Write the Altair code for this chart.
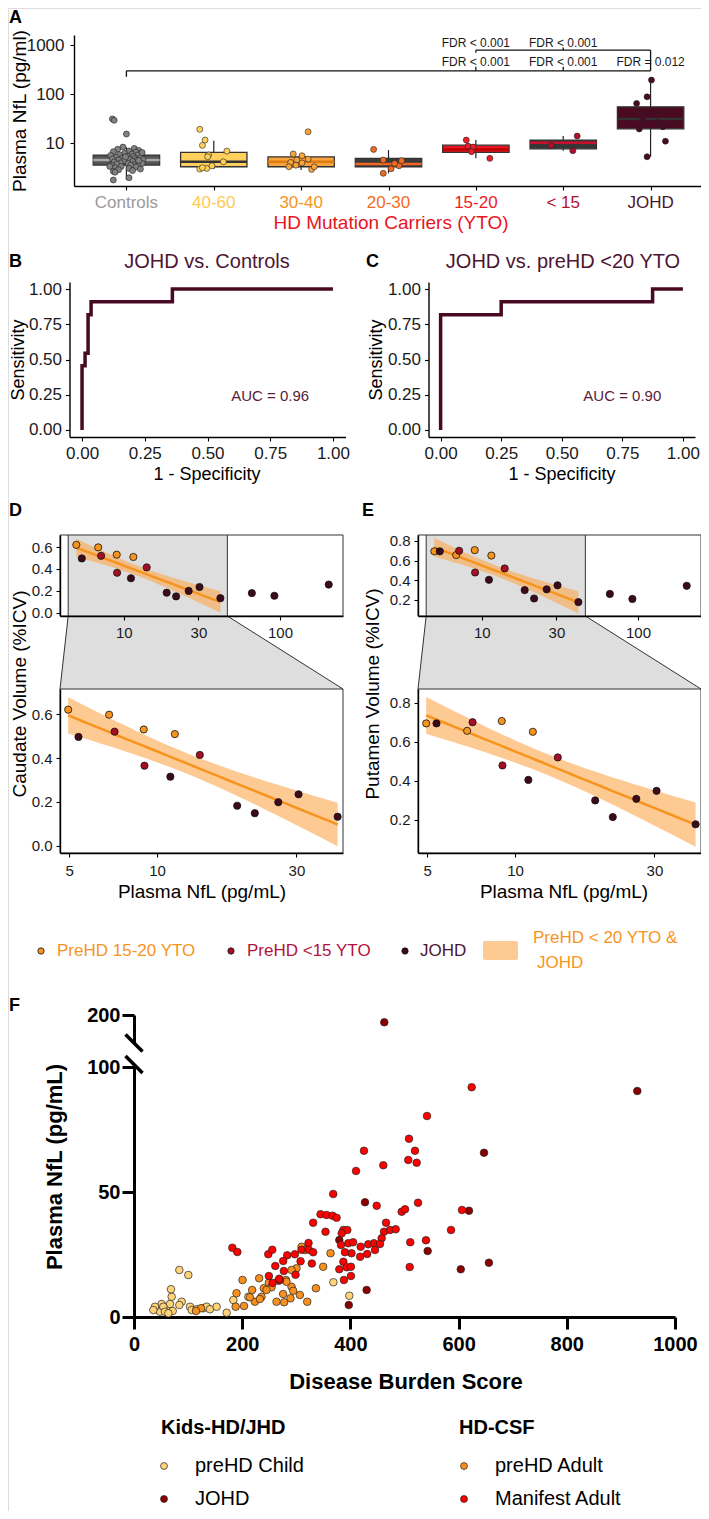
import altair as alt
import numpy as np
import pandas as pd

W, H = 693, 1503
FONT = "Liberation Sans"


def cx(X):
    return X - 8


def cy(Y):
    return Y - 8


# ===================== DATA =====================
# ---- Panel A ----
a_groups = ["Controls", "40-60", "30-40", "20-30", "15-20", "< 15", "JOHD"]
a_point_colors = ["#808080", "#FFD15C", "#F9A33C", "#F26B22", "#EE1C25", "#B0102C", "#4A0A22"]
a_label_colors = ["#9A9A9A", "#FDCB52", "#F7941D", "#F36C24", "#EE1C25", "#B0102C", "#4A1530"]
a_box_fill = ["#555555", "#FFD15C", "#F9A33C", "#3A3A3A", "#E8141E", "#363636", "#4A0A22"]
a_box_median = ["#A8A8A8", "#333333", "#E07B10", "#F26522", "#C00000", "#C8102E", "#333333"]
a_q1 = [3.62, 3.35, 3.35, 3.35, 6.56, 7.77, 19.8]
a_med = [4.58, 4.23, 4.23, 3.8, 7.55, 10.3, 31.2]
a_q3 = [5.78, 6.56, 5.34, 4.96, 9.2, 11.7, 55.5]
a_lo = [1.8, 3.0, 2.87, 2.46, 4.96, 7.1, 5.35]
a_hi = [8.4, 11.3, 6.2, 7.3, 11.7, 14.1, 194]

ctrl_nfl = [31.5, 29.5, 15.5, 8.4, 7.9, 7.6, 7.2, 7.0, 6.8, 6.6, 6.3, 6.1, 6.0, 5.9, 5.8, 5.7, 5.5, 5.4,
            5.2, 5.1, 5.0, 4.9, 4.8, 4.7, 4.7, 4.6, 4.5, 4.4, 4.3, 4.2, 4.1, 4.0, 3.9, 3.9, 3.8, 3.7,
            3.6, 3.6, 3.5, 3.4, 3.3, 3.2, 3.1, 3.0, 2.9, 2.8, 2.7, 2.6, 2.0, 1.8, 4.5, 5.3, 6.5, 3.4]
ctrl_jit = [-0.16, -0.14, 0.00, -0.04, 0.09, -0.10, 0.14, 0.03, -0.15, 0.11, -0.02, 0.17, 0.06, -0.08,
            0.13, -0.18, 0.01, 0.08, -0.12, 0.16, -0.05, 0.10, -0.16, 0.04, 0.19, -0.09, 0.12, -0.03,
            0.07, -0.14, 0.15, -0.07, 0.02, 0.18, -0.11, 0.09, -0.17, 0.05, 0.13, -0.06, 0.11, -0.13,
            0.03, 0.16, -0.09, 0.07, -0.15, -0.13, 0.03, -0.15, 0.14, -0.01, 0.18, -0.19]
g4060_nfl = [19.3, 11.7, 9.1, 5.8, 5.35, 6.97, 4.23, 3.0, 3.1, 3.5, 3.2]
g4060_jit = [-0.16, -0.10, -0.13, -0.06, -0.07, 0.15, 0.11, -0.16, -0.08, -0.02, -0.13]
g3040_nfl = [17.2, 6.1, 5.6, 4.8, 4.1, 4.58, 3.35, 3.6, 2.96, 3.35, 4.0]
g3040_jit = [0.08, -0.09, 0.01, 0.08, -0.12, -0.05, -0.14, -0.06, 0.12, 0.15, 0.01]
g2030_nfl = [7.55, 4.58, 2.46, 3.05, 3.5, 4.45, 3.9]
g2030_jit = [-0.17, -0.06, -0.06, 0.03, 0.12, 0.15, 0.07]
g1520_nfl = [11.7, 8.8, 8.4, 6.8, 4.96]
g1520_jit = [-0.11, -0.09, -0.03, -0.05, 0.16]
g15_nfl = [14.1, 9.1, 7.1]
g15_jit = [0.16, -0.14, 0.11]
gjohd_nfl = [194, 88.5, 65, 46, 42.6, 31.2, 26.7, 21.8, 19.6, 11.1, 5.35]
gjohd_jit = [0.01, -0.04, -0.16, -0.07, 0.04, -0.09, 0.09, 0.14, -0.13, 0.17, -0.04]

# significance brackets (category index units, NfL units)
br_x1 = [1, 1, 5, 6, 7, 5, 5, 6]
br_x2 = [7, 1, 5, 6, 7, 7, 5, 6]
br_y1 = [299, 299, 299, 299, 299, 787, 787, 787]
br_y2 = [299, 226, 361, 361, 787, 787, 700, 890]
fdr_x = [5, 6, 5, 6, 7]
fdr_y = [1109, 1109, 456, 456, 456]
fdr_text = ["FDR < 0.001", "FDR < 0.001", "FDR < 0.001", "FDR < 0.001", "FDR = 0.012"]

# ---- Panels B / C (ROC) ----
rocB_fpr = [0, 0, 0.012, 0.024, 0.036, 0.36, 1.0]
rocB_tpr = [0, 0.455, 0.545, 0.818, 0.909, 1.0, 1.0]
rocC_fpr = [0, 0, 0.25, 0.875, 1.0]
rocC_tpr = [0, 0.818, 0.909, 1.0, 1.0]
auc_text = ["AUC = 0.96", "AUC = 0.90"]

# ---- Panels D / E ----
de_group = ["15-20", "JOHD", "15-20", "<15", "15-20", "<15", "JOHD", "15-20", "<15",
            "JOHD", "JOHD", "JOHD", "JOHD", "JOHD", "JOHD", "JOHD", "JOHD"]
de_nfl = [4.96, 5.38, 6.85, 7.15, 9.0, 9.05, 11.1, 11.5, 14.0, 18.8, 21.6, 26.0, 30.5, 41.5, 66, 92, 205]
caudate = [0.62, 0.496, 0.597, 0.52, 0.53, 0.365, 0.315, 0.509, 0.414, 0.183, 0.149, 0.199, 0.235,
           0.133, 0.179, 0.155, 0.257]
putamen = [0.694, 0.694, 0.656, 0.70, 0.706, 0.479, 0.405, 0.651, 0.52, 0.30, 0.215, 0.308, 0.349,
           0.178, 0.261, 0.21, 0.344]
de_colors = {"15-20": "#F7941D", "<15": "#A50F25", "JOHD": "#3D0A1A"}
legend_labels = ["PreHD 15-20 YTO", "PreHD <15 YTO", "JOHD"]
legend_fill = ["#F7941D", "#A50F25", "#3D0A1A"]
legend_text_col = ["#F7941D", "#B3123B", "#4A1530"]

# ---- Panel F ----
child_dbs = [41.9, 51.1, 60.4, 66.5, 71.5, 48.1, 38.8, 54.2, 69.6, 68.4, 83.8, 100.4, 88.1, 83.8, 103.5,
             106.6, 115.8, 128.1, 134.3, 140.4, 152.7, 171.3, 183.6, 211.3, 368.5, 398, 35.7, 57.3, 63.5]
child_nfl = [3.1, 5.2, 3.1, 5.2, 2.4, 2.1, 4.1, 4.1, 8.1, 11.1, 18.8, 16.8, 6.1, 4.8, 4.1, 2.8, 3.1, 3.5,
             4.1, 3.1, 4.1, 1.7, 6.8, 8.1, 13.9, 8.5, 2.8, 2.1, 1.5]
johd_dbs = [462.7, 930.3, 647, 427, 619.2, 379.5, 542.8, 604, 656, 397, 430]
johd_nfl = [194, 90.4, 65.7, 45.9, 42.5, 30.8, 26.4, 19.1, 21.7, 4.8, 10.8]
adult_dbs = [123.8, 114.6, 187.9, 203.3, 189.5, 200.6, 231.4, 218.4, 223.4, 235.7, 240, 249.3, 263.4,
             277.6, 289.3, 275.7, 291.2, 280.8, 294.3, 306.6, 320.2, 336.2, 349.7, 363.3, 309.7, 315.8,
             300.4, 291.2, 281.9, 266.5, 254.2, 244.9, 232.6, 214.1]
adult_nfl = [3.5, 2.4, 4.1, 4.4, 9.5, 14.8, 15.5, 10.8, 6.1, 8.1, 11.5, 13.7, 6.1, 5.9, 7.5, 9.2, 12.1,
             14.8, 10.5, 8.8, 6.1, 11.5, 20.1, 25.5, 28.1, 26.8, 19.5, 18.8, 14.1, 14.5, 11.9, 10.8, 7.2, 7.9]
manifest_dbs = [181.8, 191, 248.2, 255.6, 261.2, 249.3, 256.1, 269.6, 277, 283.2, 275.8, 297.4, 309.7,
                307.9, 322.6, 323.2, 331.2, 328.7, 298.6, 268.4, 331.2, 344.8, 355.9, 367, 374.4, 354,
                368.2, 624.2, 541.6, 508.3, 519.4, 507, 522.5, 425.1, 460.8, 410.4, 448.6, 525, 494.8,
                501, 606.3, 465.8, 462.1, 473.2, 483.7, 457.8, 387, 394.3, 384, 382.6, 396, 405, 402,
                390, 419, 433, 443.6, 445.5, 454.7, 431, 418, 510.7, 539.7, 586, 509.6, 387, 379.5,
                393, 401, 388, 401]
manifest_nfl = [27.7, 26, 25.1, 26.9, 20.4, 16.4, 13.6, 14.7, 18.4, 24.7, 22.4, 25.1, 26.9, 22.3, 29.6,
                26.9, 25.9, 21.4, 16.9, 15.3, 37.7, 41.1, 40.8, 40.5, 39.7, 34.1, 49.2, 91.9, 80.4,
                71.3, 66.5, 62.8, 61.7, 66.5, 60.7, 58.4, 44.5, 45.7, 42.1, 43.1, 42.8, 37.7, 34.1,
                34.8, 35.1, 31.5, 34.8, 34.8, 33.5, 28.8, 29.5, 29.9, 25.5, 25.9, 28.1, 29.1, 29.5,
                26.8, 29.2, 25.2, 24.1, 29.9, 30.7, 34.8, 20, 22.1, 19.1, 19.9, 20.1, 14.8, 16.4]
f_colors = {"preHD Child": "#FFD479", "JOHD": "#8B0000", "preHD Adult": "#F7901E", "Manifest Adult": "#FF0000"}


# ===================== HELPERS =====================
def axis(orient, pos, values, size, fmt=None, **kw):
    d = dict(orient=orient, values=values, title=None, grid=False, labelFontSize=size,
             labelFont=FONT, labelColor="#1a1a1a", domainColor="#000000", tickColor="#000000",
             domainWidth=1.4, tickWidth=1.1, tickSize=4, labelPadding=3, labelOverlap=False,
             labelFlush=False)
    if orient == "left":
        d["offset"] = -cx(pos)
    else:
        d["offset"] = cy(pos) - H
    if fmt is not None:
        d["format"] = fmt
    d.update(kw)
    return alt.Axis(**d)


def label(s, X, Y, size, color="#000000", weight="normal", align="center", angle=0):
    kw = dict(fontSize=size, color=color, fontWeight=weight, align=align, baseline="middle", font=FONT)
    if angle:
        kw["angle"] = angle
    return alt.Chart(pd.DataFrame({"t": [s]})).mark_text(**kw).encode(
        text="t:N", x=alt.value(cx(X)), y=alt.value(cy(Y)))


def log_px(v, dom, rng):
    t = (np.log10(v) - np.log10(dom[0])) / (np.log10(dom[1]) - np.log10(dom[0]))
    return rng[0] + t * (rng[1] - rng[0])


# ===================== PANEL A =====================
A_X = alt.Scale(domain=[0.4, 7.6], range=[cx(74), cx(703)], nice=False, zero=False)
A_Y = alt.Scale(type="log", domain=[1.36, 1600], range=[cy(186), cy(35)], nice=False)
axAx = axis("bottom", 186, list(range(1, 8)), 17, labels=False)
axAy = axis("left", 74, [10, 100, 1000], 17, fmt="d", labelPadding=6)

box_df = pd.DataFrame(dict(g=a_groups, i=np.arange(1, 8), q1=a_q1, med=a_med, q3=a_q3, lo=a_lo,
                           hi=a_hi, fill=a_box_fill, medc=a_box_median, lc=a_label_colors))
box_df["xl"] = box_df["i"] - 0.38
box_df["xr"] = box_df["i"] + 0.38

pt_lists = [(ctrl_nfl, ctrl_jit), (g4060_nfl, g4060_jit), (g3040_nfl, g3040_jit), (g2030_nfl, g2030_jit),
            (g1520_nfl, g1520_jit), (g15_nfl, g15_jit), (gjohd_nfl, gjohd_jit)]
rows = []
for k, (vals, jit) in enumerate(pt_lists):
    for v, j in zip(vals, jit):
        rows.append(dict(x=k + 1 + j, v=v, c=a_point_colors[k]))
a_pts = pd.DataFrame(rows)


def AX(f):
    return alt.X(f, scale=A_X, axis=axAx)


def AY(f):
    return alt.Y(f, scale=A_Y, axis=axAy)


whisk = alt.Chart(box_df).mark_rule(color="#222222", strokeWidth=1.2).encode(
    x=AX("i:Q"), y=AY("lo:Q"), y2="hi:Q")
boxes = alt.Chart(box_df).mark_rect(stroke="#333333", strokeWidth=1.3).encode(
    x=AX("xl:Q"), x2="xr:Q", y=AY("q1:Q"), y2="q3:Q", fill=alt.Fill("fill:N", scale=None))
medians = alt.Chart(box_df).mark_rule(strokeWidth=2.5).encode(
    x=AX("xl:Q"), x2="xr:Q", y=AY("med:Q"), color=alt.Color("medc:N", scale=None))
a_points = alt.Chart(a_pts).mark_circle(size=36, stroke="#222222", strokeWidth=0.6, opacity=1).encode(
    x=AX("x:Q"), y=AY("v:Q"), fill=alt.Fill("c:N", scale=None))
br_df = pd.DataFrame(dict(x1=br_x1, x2=br_x2, y1=br_y1, y2=br_y2))
brackets = alt.Chart(br_df).mark_rule(color="#111111", strokeWidth=1.3).encode(
    x=AX("x1:Q"), x2="x2:Q", y=AY("y1:Q"), y2="y2:Q")
fdr_df = pd.DataFrame(dict(x=fdr_x, y=fdr_y, t=fdr_text))
fdr = alt.Chart(fdr_df).mark_text(fontSize=12, color="#1a1a1a", font=FONT, baseline="middle").encode(
    x=AX("x:Q"), y=AY("y:Q"), text="t:N")
cat_labels = alt.Chart(box_df).mark_text(fontSize=17, font=FONT, baseline="middle").encode(
    x=AX("i:Q"), y=alt.value(cy(203)), text="g:N", color=alt.Color("lc:N", scale=None))
panelA = alt.layer(whisk, boxes, medians, a_points, brackets, fdr, cat_labels)


# ===================== PANELS B / C =====================
ROC_COL = "#470A22"
TITLE_COL = "#4D1533"


def roc_panel(fpr, tpr, xl, xr, auc):
    sx = alt.Scale(domain=[-0.05, 1.05], range=[cx(xl), cx(xr)], nice=False, zero=False)
    sy = alt.Scale(domain=[-0.05, 1.05], range=[cy(437), cy(282)], nice=False, zero=False)
    ticks = [0, 0.25, 0.5, 0.75, 1.0]
    axx = axis("bottom", 437, ticks, 17, fmt=".2f", labelPadding=4)
    axy = axis("left", xl, ticks, 17, fmt=".2f", labelPadding=4)
    df = pd.DataFrame(dict(fpr=fpr, tpr=tpr, k=range(len(fpr))))
    line = alt.Chart(df).mark_line(interpolate="step-after", strokeWidth=3.5, color=ROC_COL).encode(
        x=alt.X("fpr:Q", scale=sx, axis=axx), y=alt.Y("tpr:Q", scale=sy, axis=axy), order="k:Q")
    auc_t = alt.Chart(pd.DataFrame(dict(x=[0.75], y=[0.24], t=[auc]))).mark_text(
        fontSize=15, color="#5A1A3A", font=FONT, baseline="middle").encode(
        x=alt.X("x:Q", scale=sx, axis=axx), y=alt.Y("y:Q", scale=sy, axis=axy), text="t:N")
    return alt.layer(line, auc_t)


panelB = roc_panel(rocB_fpr, rocB_tpr, 69.5, 345.5, auc_text[0])
panelC = roc_panel(rocC_fpr, rocC_tpr, 428.5, 695, auc_text[1])

# ===================== PANELS D / E =====================
TOP_XDOM = [3.9, 253]
BOT_XDOM = [4.65, 43.3]
ZOOM_LO, ZOOM_HI = 4.4, 46


def fit_band(xs, ys):
    L = np.log10(xs)
    b, a = np.polyfit(L, ys, 1)
    grid = np.linspace(L.min(), L.max(), 40)
    pred = a + b * grid
    resid = ys - (a + b * L)
    n = len(xs)
    s = np.sqrt(np.sum(resid ** 2) / (n - 2))
    se = s * np.sqrt(1.0 / n + (grid - L.mean()) ** 2 / np.sum((L - L.mean()) ** 2))
    t = 2.179
    return pd.DataFrame(dict(x=10 ** grid, y=pred, lo=pred - t * se, hi=pred + t * se))


def de_panel(vals, x0, x1, top_ydom, bot_ydom, top_ticks, bot_ticks):
    df = pd.DataFrame(dict(x=de_nfl, y=vals, c=[de_colors[g] for g in de_group]))
    inzoom = df[df.x <= BOT_XDOM[1]]
    band = fit_band(inzoom.x.values, inzoom.y.values)
    layers = []
    for kind in ["top", "bot"]:
        if kind == "top":
            sx = alt.Scale(type="log", domain=TOP_XDOM, range=[cx(x0), cx(x1)], nice=False)
            sy = alt.Scale(domain=top_ydom, range=[cy(616), cy(535)], nice=False, zero=False)
            axx = axis("bottom", 616, [10, 30, 100], 15, fmt="d", labelPadding=5, zindex=1)
            axy = axis("left", x0, top_ticks, 15, fmt=".1f", labelPadding=4, zindex=1)
            ydom, xdom, pts = top_ydom, TOP_XDOM, df
        else:
            sx = alt.Scale(type="log", domain=BOT_XDOM, range=[cx(x0), cx(x1)], nice=False)
            sy = alt.Scale(domain=bot_ydom, range=[cy(853), cy(689)], nice=False, zero=False)
            axx = axis("bottom", 853, [5, 10, 30], 15, fmt="d", labelPadding=6, zindex=1)
            axy = axis("left", x0, bot_ticks, 15, fmt=".1f", labelPadding=4, zindex=1)
            ydom, xdom, pts = bot_ydom, BOT_XDOM, inzoom

        def X(f):
            return alt.X(f, scale=sx, axis=axx)

        def Y(f):
            return alt.Y(f, scale=sy, axis=axy)

        frame_df = pd.DataFrame(dict(a=[xdom[0]], b=[xdom[1]], c=[ydom[0]], d=[ydom[1]]))
        parts = []
        if kind == "top":
            gdf = pd.DataFrame(dict(a=[ZOOM_LO], b=[ZOOM_HI], c=[ydom[0]], d=[ydom[1]]))
            parts.append(alt.Chart(gdf).mark_rect(color="#DEDEDE").encode(
                x=X("a:Q"), x2="b:Q", y=Y("c:Q"), y2="d:Q"))
            edf = pd.DataFrame(dict(a=[ZOOM_LO, ZOOM_HI], c=[ydom[0]] * 2, d=[ydom[1]] * 2))
            parts.append(alt.Chart(edf).mark_rule(color="#333333", strokeWidth=1).encode(
                x=X("a:Q"), y=Y("c:Q"), y2="d:Q"))
        parts.append(alt.Chart(band).mark_area(color="#FDA74D", opacity=0.6, clip=True).encode(
            x=X("x:Q"), y=Y("lo:Q"), y2="hi:Q"))
        parts.append(alt.Chart(band).mark_line(color="#F7941D", strokeWidth=2.5, clip=True).encode(
            x=X("x:Q"), y=Y("y:Q")))
        parts.append(alt.Chart(pts).mark_circle(size=52, stroke="#111111", strokeWidth=0.8, opacity=1).encode(
            x=X("x:Q"), y=Y("y:Q"), fill=alt.Fill("c:N", scale=None)))
        parts.append(alt.Chart(frame_df).mark_rect(fillOpacity=0, stroke="#333333", strokeWidth=1).encode(
            x=X("a:Q"), x2="b:Q", y=Y("c:Q"), y2="d:Q"))
        layers.append(alt.layer(*parts))
    xl_top = log_px(ZOOM_LO, TOP_XDOM, [cx(x0), cx(x1)])
    xr_top = log_px(ZOOM_HI, TOP_XDOM, [cx(x0), cx(x1)])
    trap = pd.DataFrame(dict(y=[cy(616), cy(689)], xl=[xl_top, cx(x0)], xr=[xr_top, cx(x1)]))
    return layers, trap


PX = alt.Scale(domain=[0, W], range=[0, W], nice=False, zero=False)
PY = alt.Scale(domain=[0, H], range=[0, H], nice=False, zero=False)

d_layers, d_trap = de_panel(caudate, 60, 343, [-0.03, 0.71], [-0.032, 0.714],
                            [0.0, 0.2, 0.4, 0.6], [0.0, 0.2, 0.4, 0.6])
e_layers, e_trap = de_panel(putamen, 418, 701, [0.037, 0.86], [0.031, 0.87],
                            [0.2, 0.4, 0.6, 0.8], [0.2, 0.4, 0.6, 0.8])

pix_parts = []
for trap in [d_trap, e_trap]:
    pix_parts.append(alt.Chart(trap).mark_area(orient="horizontal", color="#DEDEDE").encode(
        y=alt.Y("y:Q", scale=PY, axis=None), x=alt.X("xl:Q", scale=PX, axis=None), x2="xr:Q"))
    edges = pd.DataFrame(dict(x1=[trap.xl[0], trap.xr[0]], x2=[trap.xl[1], trap.xr[1]],
                              y1=[trap.y[0]] * 2, y2=[trap.y[1]] * 2))
    pix_parts.append(alt.Chart(edges).mark_rule(color="#333333", strokeWidth=1).encode(
        x=alt.X("x1:Q", scale=PX, axis=None), x2="x2:Q", y=alt.Y("y1:Q", scale=PY, axis=None), y2="y2:Q"))

# ===================== PANEL F =====================
F_X = alt.Scale(domain=[0, 1000], range=[cx(134), cx(675)], nice=False, zero=False)
F_Y = alt.Scale(domain=[0, 101], range=[cy(1317), cy(1064.5)], nice=False, zero=False)
F_Y2 = alt.Scale(domain=[177, 200], range=[cy(1043), cy(1015)], nice=False, zero=False)
fstyle = dict(labelFontWeight="bold", labelColor="#000000", domainWidth=3, tickWidth=3, tickSize=12)
axFx = axis("bottom", 1317, [0, 200, 400, 600, 800, 1000], 20, fmt="d", labelPadding=5, **fstyle)
axFy = axis("left", 134, [0, 50, 100], 20, fmt="d", labelPadding=2, **fstyle)
axFy2 = axis("left", 134, [200], 20, fmt="d", labelPadding=2, **fstyle)

f_rows = []
for name, xs, ys in [("preHD Child", child_dbs, child_nfl), ("JOHD", johd_dbs, johd_nfl),
                     ("preHD Adult", adult_dbs, adult_nfl), ("Manifest Adult", manifest_dbs, manifest_nfl)]:
    for xv, yv in zip(xs, ys):
        f_rows.append(dict(g=name, x=xv, y=yv, c=f_colors[name]))
f_df = pd.DataFrame(f_rows)
f_low = f_df[f_df.y <= 101]
f_high = f_df[f_df.y > 101]

f_pts = alt.Chart(f_low).mark_circle(size=58, stroke="#222222", strokeWidth=0.7, opacity=1).encode(
    x=alt.X("x:Q", scale=F_X, axis=axFx), y=alt.Y("y:Q", scale=F_Y, axis=axFy),
    fill=alt.Fill("c:N", scale=None))
panelF = alt.layer(f_pts)
f_pts2 = alt.Chart(f_high).mark_circle(size=58, stroke="#222222", strokeWidth=0.7, opacity=1).encode(
    x=alt.X("x:Q", scale=F_X, axis=None), y=alt.Y("y:Q", scale=F_Y2, axis=axFy2),
    fill=alt.Fill("c:N", scale=None))
panelF2 = alt.layer(f_pts2)

# axis-break slashes (at the segment ends of the broken y axis)
brk_y = [cy(1043), cy(1064.5)]
slash = pd.DataFrame(dict(x1=[cx(134) - 8.5] * 2, x2=[cx(134) + 8.5] * 2,
                          y1=[b - 8.5 for b in brk_y], y2=[b + 8.5 for b in brk_y]))
pix_parts.append(alt.Chart(slash).mark_rule(color="#000000", strokeWidth=3.5).encode(
    x=alt.X("x1:Q", scale=PX, axis=None), x2="x2:Q", y=alt.Y("y1:Q", scale=PY, axis=None), y2="y2:Q"))

# ===================== LEGENDS =====================
leg_parts = []
leg_dot_x = [41, 231, 405]
leg_txt_x = [57, 247, 420]
for k in range(3):
    leg_parts.append(alt.Chart(pd.DataFrame({"c": [legend_fill[k]]})).mark_circle(
        size=40, stroke="#111111", strokeWidth=0.8, opacity=1).encode(
        x=alt.value(cx(leg_dot_x[k])), y=alt.value(cy(951)), fill=alt.Fill("c:N", scale=None)))
    leg_parts.append(label(legend_labels[k], leg_txt_x[k], 951, 17, color=legend_text_col[k], align="left"))
leg_parts.append(alt.Chart(pd.DataFrame({"c": ["#FDA74D"]})).mark_rect(opacity=0.6, cornerRadius=2).encode(
    x=alt.value(cx(483)), x2=alt.value(cx(518)), y=alt.value(cy(941)), y2=alt.value(cy(960)),
    fill=alt.Fill("c:N", scale=None)))
leg_parts.append(label("PreHD < 20 YTO &", 533, 938, 17, color="#F7941D", align="left"))
leg_parts.append(label("JOHD", 537, 963, 17, color="#F7941D", align="left"))

f_leg_groups = [("preHD Child", 164, 1466), ("JOHD", 164, 1499),
                ("preHD Adult", 464, 1466), ("Manifest Adult", 464, 1499)]
for name, X, Y in f_leg_groups:
    leg_parts.append(alt.Chart(pd.DataFrame({"c": [f_colors[name]]})).mark_circle(
        size=48, stroke="#222222", strokeWidth=0.7, opacity=1).encode(
        x=alt.value(cx(X)), y=alt.value(cy(Y)), fill=alt.Fill("c:N", scale=None)))
    leg_parts.append(label(name, X + 31, Y, 20, align="left"))
leg_parts.append(label("Kids-HD/JHD", 161, 1428, 20, weight="bold", align="left"))
leg_parts.append(label("HD-CSF", 459, 1428, 20, weight="bold", align="left"))

# ===================== TEXT ANNOTATIONS =====================
texts = [
    label("A", 9, 18, 18, weight="bold", align="left"),
    label("B", 9, 262, 18, weight="bold", align="left"),
    label("C", 366, 262, 18, weight="bold", align="left"),
    label("D", 9, 511, 18, weight="bold", align="left"),
    label("E", 362, 511, 18, weight="bold", align="left"),
    label("F", 9, 1006, 18, weight="bold", align="left"),
    label("Plasma NfL (pg/ml)", 20, 111, 19, angle=270),
    label("HD Mutation Carriers (YTO)", 391, 223, 19, color="#E8141E"),
    label("JOHD vs. Controls", 207, 262, 20, color=TITLE_COL),
    label("JOHD vs. preHD <20 YTO", 563, 262, 20, color=TITLE_COL),
    label("Sensitivity", 19, 360, 18, angle=270),
    label("Sensitivity", 377, 360, 18, angle=270),
    label("1 - Specificity", 207, 475, 18),
    label("1 - Specificity", 562, 475, 18),
    label("Caudate Volume (%ICV)", 20, 694, 19, angle=270),
    label("Putamen Volume (%ICV)", 373, 694, 19, angle=270),
    label("Plasma NfL (pg/mL)", 202, 892, 19),
    label("Plasma NfL (pg/mL)", 564, 892, 19),
    label("Plasma NfL (pg/mL)", 55, 1167, 22, weight="bold", angle=270),
    label("Disease Burden Score", 406, 1382, 22, weight="bold"),
]

pix_layer = alt.layer(*pix_parts)

chart = alt.layer(
    pix_layer, panelA, panelB, panelC, *d_layers, *e_layers, panelF, panelF2, *leg_parts, *texts
).resolve_scale(x="independent", y="independent").resolve_axis(
    x="independent", y="independent"
).properties(
    width=W, height=H, padding=0, autosize=alt.AutoSizeParams(type="none")
).configure_view(stroke=None).configure(font=FONT)

chart.save("out.html", embed_options={"renderer": "svg", "actions": False})
